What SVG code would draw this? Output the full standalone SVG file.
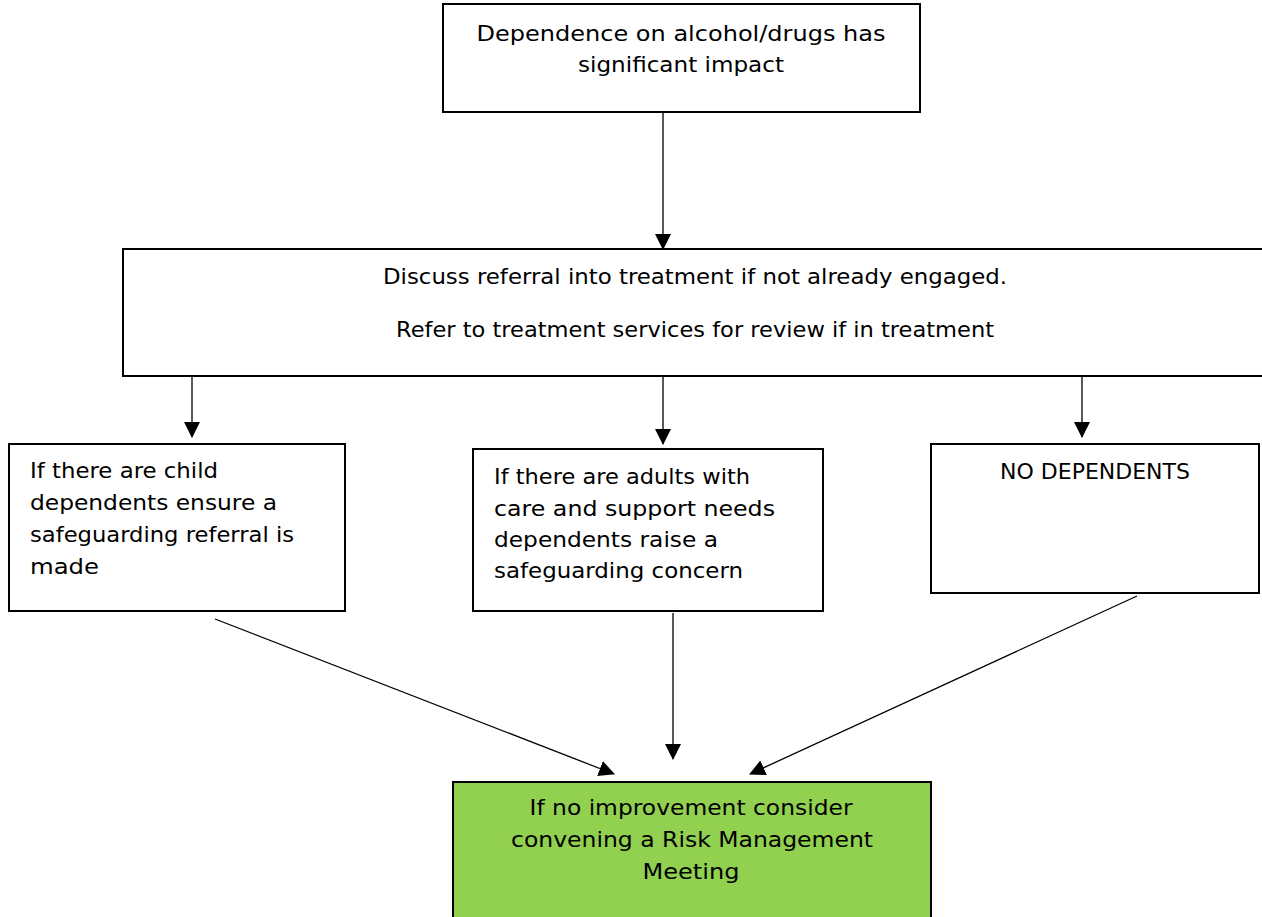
<svg xmlns="http://www.w3.org/2000/svg" width="1262" height="917" viewBox="0 0 1262 917">
<style>
.box{fill:#ffffff;stroke:#000000;stroke-width:2}
.green{fill:#92d050;stroke:#000000;stroke-width:2}
.t{font-family:"DejaVu Sans","Liberation Sans",sans-serif;font-size:21px;fill:#000000}
.c{text-anchor:middle}
.con{stroke:#000000;stroke-width:1.3;fill:none;marker-end:url(#ah)}
</style>
<defs>
<marker id="ah" markerUnits="userSpaceOnUse" markerWidth="16" markerHeight="16" viewBox="0 0 16 16" refX="15" refY="8" orient="auto">
<path d="M0,0 L16,8 L0,16 Z" fill="#000000"/>
</marker>
</defs>
<rect width="1262" height="917" fill="#ffffff"/>
<g id="connectors">
<line class="con" x1="663" y1="112" x2="663" y2="249"/>
<line class="con" x1="192" y1="376" x2="192" y2="437"/>
<line class="con" x1="663" y1="376" x2="663" y2="444"/>
<line class="con" x1="1082" y1="376" x2="1082" y2="437"/>
<line class="con" x1="215" y1="619" x2="614" y2="774"/>
<line class="con" x1="673" y1="613" x2="673" y2="759"/>
<line class="con" x1="1137" y1="596" x2="750" y2="774"/>
</g>
<g id="node-top">
<rect class="box" x="443" y="4" width="477" height="108"/>
<text class="t c" x="681" y="41" textLength="409" lengthAdjust="spacingAndGlyphs">Dependence on alcohol/drugs has</text>
<text class="t c" x="681" y="72" textLength="206" lengthAdjust="spacingAndGlyphs">significant impact</text>
</g>
<g id="node-treatment">
<rect class="box" x="123" y="249" width="1150" height="127"/>
<text class="t c" x="695" y="284" textLength="624" lengthAdjust="spacingAndGlyphs">Discuss referral into treatment if not already engaged.</text>
<text class="t c" x="695" y="337" textLength="598" lengthAdjust="spacingAndGlyphs">Refer to treatment services for review if in treatment</text>
</g>
<g id="node-child">
<rect class="box" x="9" y="444" width="336" height="167"/>
<text class="t" x="30" y="478" textLength="188" lengthAdjust="spacingAndGlyphs">If there are child</text>
<text class="t" x="30" y="510" textLength="247" lengthAdjust="spacingAndGlyphs">dependents ensure a</text>
<text class="t" x="30" y="542" textLength="264" lengthAdjust="spacingAndGlyphs">safeguarding referral is</text>
<text class="t" x="30" y="574" textLength="69" lengthAdjust="spacingAndGlyphs">made</text>
</g>
<g id="node-adults">
<rect class="box" x="473" y="449" width="350" height="162"/>
<text class="t" x="494" y="484" textLength="256" lengthAdjust="spacingAndGlyphs">If there are adults with</text>
<text class="t" x="494" y="516" textLength="281" lengthAdjust="spacingAndGlyphs">care and support needs</text>
<text class="t" x="494" y="547" textLength="224" lengthAdjust="spacingAndGlyphs">dependents raise a</text>
<text class="t" x="494" y="578" textLength="249" lengthAdjust="spacingAndGlyphs">safeguarding concern</text>
</g>
<g id="node-none">
<rect class="box" x="931" y="444" width="328" height="149"/>
<text class="t c" x="1095" y="479" textLength="190" lengthAdjust="spacingAndGlyphs">NO DEPENDENTS</text>
</g>
<g id="node-rmm">
<rect class="green" x="453" y="782" width="478" height="140"/>
<text class="t c" x="691" y="815" textLength="323" lengthAdjust="spacingAndGlyphs">If no improvement consider</text>
<text class="t c" x="692" y="847" textLength="362" lengthAdjust="spacingAndGlyphs">convening a Risk Management</text>
<text class="t c" x="691" y="879" textLength="97" lengthAdjust="spacingAndGlyphs">Meeting</text>
</g>
</svg>
